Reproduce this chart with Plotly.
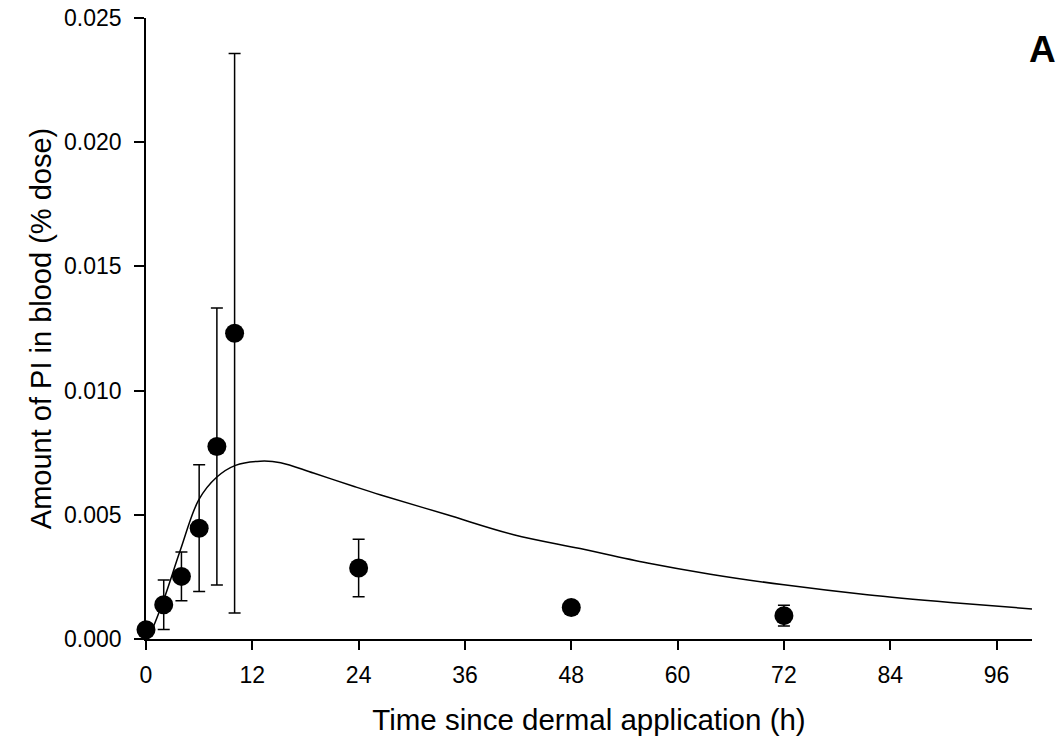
import plotly.graph_objects as go

# Observed data (mean ± SD)
obs_time = [0, 2, 4, 6, 8, 10, 24, 48, 72]
obs_amount = [0.00037, 0.00138, 0.00252, 0.00446, 0.00775, 0.01231, 0.00286, 0.00127, 0.00094]
obs_sd = [0.0, 0.00100, 0.00098, 0.00255, 0.00558, 0.01126, 0.00116, 0.00020, 0.00042]

# Model prediction curve
fit_time = [0, 0.5, 2.0, 3.9, 5.95, 8.0, 10.1, 12.9, 15.2, 18.9, 23.5, 26.5, 34.0,
            41.5, 49.0, 56.6, 63.7, 72.0, 81.4, 90.8, 100.0]
fit_amount = [0.0, 0.00024, 0.00158, 0.0036, 0.0056, 0.00652, 0.00699, 0.00716, 0.0071,
              0.00668, 0.00614, 0.0058, 0.0050, 0.0042, 0.00364, 0.00306, 0.00261,
              0.00218, 0.00178, 0.00147, 0.00121]

x_ticks = [0, 12, 24, 36, 48, 60, 72, 84, 96]
y_ticks = [0.000, 0.005, 0.010, 0.015, 0.020, 0.025]

fig = go.Figure()
fig.add_trace(go.Scatter(
    x=fit_time, y=fit_amount, mode="lines",
    line=dict(color="black", width=1.5, shape="spline"),
    showlegend=False, cliponaxis=False,
))
fig.add_trace(go.Scatter(
    x=obs_time, y=obs_amount, mode="markers",
    marker=dict(color="black", size=19),
    error_y=dict(type="data", array=obs_sd, visible=True, color="black",
                 thickness=1.5, width=6),
    showlegend=False, cliponaxis=False,
))

FONT = "Liberation Sans, Arial, sans-serif"
tick_font = dict(family=FONT, size=23, color="black")
fig.update_layout(
    width=1061, height=747,
    margin=dict(l=146, r=29, t=18, b=108, autoexpand=False),
    plot_bgcolor="white", paper_bgcolor="white",
    font=dict(family=FONT, color="black"),
    xaxis=dict(range=[0, 100], tickvals=x_ticks, ticks="outside", ticklen=9,
               tickwidth=1.5, tickcolor="black", showline=True, linecolor="black",
               linewidth=1.5, showgrid=False, zeroline=False, tickfont=tick_font,
               ticklabelstandoff=6, ticklabeloverflow="allow", automargin=False,
               title=dict(text="Time since dermal application (h)",
                          font=dict(family=FONT, size=29.5, color="black"), standoff=22)),
    yaxis=dict(range=[0, 0.025], tickvals=y_ticks, tickformat=".3f", ticks="outside",
               ticklen=10, tickwidth=1.5, tickcolor="black", showline=True,
               linecolor="black", linewidth=1.5, showgrid=False, zeroline=False,
               tickfont=tick_font, ticklabelstandoff=8, ticklabeloverflow="allow",
               automargin=False,
               title=dict(text="Amount of PI in blood (% dose)",
                          font=dict(family=FONT, size=29, color="black"), standoff=4)),
    annotations=[dict(text="<b>A</b>", xref="paper", yref="paper", x=1.0124, y=0.950,
                      xanchor="center", yanchor="middle", showarrow=False,
                      font=dict(family=FONT, size=37, color="black"))],
)
fig.write_html("out.html", config={"displayModeBar": False},
               post_script="document.body.style.margin='0';document.body.style.overflow='hidden';")
